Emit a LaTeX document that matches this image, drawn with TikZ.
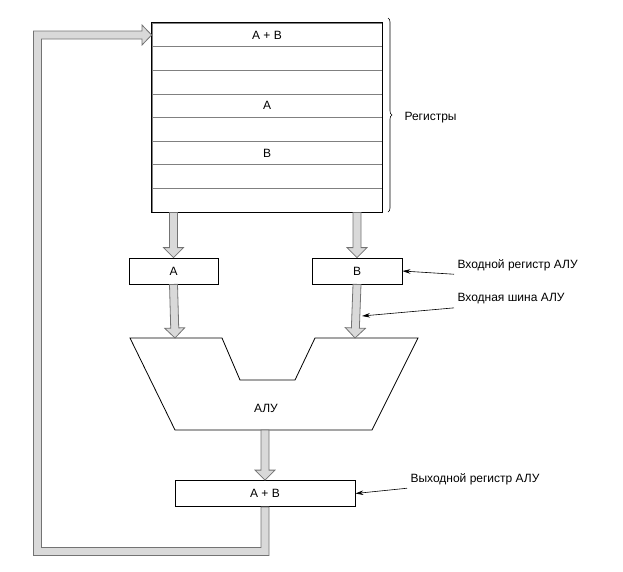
\documentclass[tikz,border=0pt]{standalone}
\usepackage{fontspec}
\setmainfont{Liberation Sans}
\usetikzlibrary{arrows.meta,positioning,decorations.pathreplacing,calc}
\tikzset{
  box/.style={draw, line width=0.8pt, minimum height=26pt, inner sep=0pt},
  row/.style={draw=gray, line width=0.8pt, minimum width=230pt, minimum height=23.6pt, inner sep=0pt},
  busfill/.style={draw=gray!90!black, fill=gray!30, line width=0.8pt, line join=miter},
  lbl/.style={font=\fontsize{12}{14}\selectfont},
  thinarrow/.style={-{Stealth[length=8pt,width=4.5pt]}, line width=0.6pt}
}
% fat bus arrow between two points
\newcommand\busarrow[2]{%
  \path let \p1=(#1),\p2=(#2),\n1={atan2(\y2-\y1,\x2-\x1)},\n2={veclen(\x2-\x1,\y2-\y1)} in
    [busfill, shift={(\p1)}, rotate=\n1]
    (0,-4) -- (\n2-10,-4) -- (\n2-10,-10) -- (\n2,0) -- (\n2-10,10) -- (\n2-10,4) -- (0,4) -- cycle;}
\begin{document}
\begin{tikzpicture}[x=1pt,y=-1pt,lbl]
\useasboundingbox (0,0) rectangle (623,571);
% registers
\foreach \i/\t in {0/A + B,1/,2/,3/A,4/,5/B,6/,7/}
  \node[row] (r\i) at (267,{35+23.6*\i}) {\t};
\draw[line width=0.8pt] (r0.north west) rectangle (r7.south east);
\draw[decorate, decoration={brace, amplitude=4pt}, line width=0.6pt] (388,18) -- (388,212);
\node[anchor=west] (regs) at (401,118) {Регистры};
% ALU input registers
\node[box, minimum width=89pt] (a) at (173.5,271) {A};
\node[box, minimum width=90pt] (b) at (357,271) {B};
% ALU
\draw[line width=0.8pt] (130,338) -- (222,338) -- (240,380) -- (295,380) -- (315,338)
  -- (418,338) -- (372,430) -- (175,430) -- cycle;
\node (alu) at (266,408) {АЛУ};
\coordinate (alutop1) at (175,338);
\coordinate (alutop2) at (355,338);
\coordinate (alubot) at (265,430);
% output register
\node[box, minimum width=180pt] (out) at (265,493.5) {A + B};
% buses
\busarrow{r7.south -| a.north}{a.north}
\busarrow{r7.south -| b.north}{b.north}
\busarrow{a.south}{alutop1}
\busarrow{b.south}{alutop2}
\busarrow{alubot}{out.north}
% feedback bus
\draw[busfill] ($(out.south)+(-4,0)$) -- (261,547.5) -- (41.5,547.5) -- (41.5,39)
  -- (142,39) -- (142,45) -- ($(r0.west)+(0,0)$) -- (142,25) -- (142,31) -- (33.5,31)
  -- (33.5,555.5) -- (269,555.5) -- ($(out.south)+(4,0)$) -- cycle;
% labels
\node[anchor=west] (inreg) at (454,265) {Входной регистр АЛУ};
\node[anchor=west] (inbus) at (454,299) {Входная шина АЛУ};
\node[anchor=west] (outreg) at (407,479) {Выходной регистр АЛУ};
\draw[thinarrow] (inreg.south west) -- (b.east);
\draw[thinarrow] (inbus.south west) -- (362,316);
\draw[thinarrow] (outreg.south west) -- (out.east);
\end{tikzpicture}
\end{document}
